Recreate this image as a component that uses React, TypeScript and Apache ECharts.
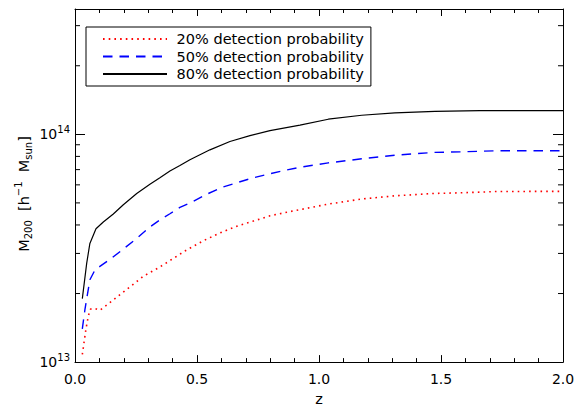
import React, { useEffect, useRef } from "react";
import * as echarts from "echarts";

const FONT = "DejaVu Sans";
const MASS_UNIT = 1e13; // masses below are listed in units of 1e13 h^-1 Msun

const seriesNames = [
  "20% detection probability",
  "50% detection probability",
  "80% detection probability",
];

// 20% detection probability
const z20 = [0.030, 0.037, 0.045, 0.055, 0.064, 0.082, 0.102, 0.136, 0.177, 0.225, 0.280, 0.341, 0.389, 0.458,
  0.526, 0.594, 0.663, 0.731, 0.799, 0.868, 0.922, 1.038, 1.175, 1.311, 1.468, 1.591, 1.728, 2.0];
const m20 = [1.08, 1.22, 1.40, 1.60, 1.71, 1.72, 1.69, 1.80, 1.95, 2.14, 2.38, 2.59, 2.79, 3.11,
  3.41, 3.69, 3.95, 4.16, 4.39, 4.55, 4.67, 4.94, 5.20, 5.37, 5.50, 5.54, 5.61, 5.62];

// 50% detection probability
const z50 = [0.030, 0.041, 0.061, 0.082, 0.102, 0.150, 0.205, 0.253, 0.307, 0.348, 0.389, 0.430, 0.485, 0.540,
  0.608, 0.663, 0.731, 0.799, 0.868, 0.922, 1.038, 1.175, 1.311, 1.468, 1.591, 1.728, 2.0];
const m50 = [1.40, 1.71, 2.30, 2.54, 2.63, 2.86, 3.18, 3.49, 3.92, 4.21, 4.48, 4.78, 5.08, 5.46,
  5.88, 6.13, 6.45, 6.71, 6.98, 7.17, 7.49, 7.81, 8.09, 8.33, 8.38, 8.47, 8.47];

// 80% detection probability
const z80 = [0.030, 0.048, 0.061, 0.086, 0.116, 0.157, 0.198, 0.253, 0.307, 0.348, 0.389, 0.430, 0.471, 0.553,
  0.635, 0.717, 0.799, 0.922, 1.038, 1.175, 1.311, 1.475, 1.660, 2.0];
const m80 = [1.90, 2.72, 3.32, 3.85, 4.12, 4.47, 4.91, 5.50, 6.04, 6.45, 6.90, 7.29, 7.74, 8.55,
  9.30, 9.87, 10.38, 10.97, 11.65, 12.13, 12.42, 12.62, 12.70, 12.70];

const X_MIN = 0;
const X_MAX = 2.0;
const X_INTERVAL = 0.5;
const Y_MIN = 1e13;
const Y_MAX = 3.55e14;
const yMinorTicks = [2e13, 3e13, 4e13, 5e13, 6e13, 7e13, 8e13, 9e13, 2e14, 3e14];

function toPairs(z: number[], m: number[]) {
  return z.map((v, i) => [v, m[i] * MASS_UNIT]);
}

export default function App() {
  const ref = useRef<HTMLDivElement>(null);

  useEffect(() => {
    if (!ref.current) return;
    const chart = echarts.init(ref.current, undefined, { renderer: "svg" });

    const xAxisBase = {
      type: "value",
      min: X_MIN,
      max: X_MAX,
      interval: X_INTERVAL,
      axisLine: { show: true, onZero: false, lineStyle: { color: "#000", width: 1 } },
      axisTick: { show: true, inside: true, length: 7, lineStyle: { color: "#000", width: 1 } },
      minorTick: { show: true, splitNumber: 5, length: 4, lineStyle: { color: "#000", width: 1 } },
      splitLine: { show: false },
      minorSplitLine: { show: false },
    };

    const yAxisBase = {
      type: "log",
      logBase: 10,
      min: Y_MIN,
      max: Y_MAX,
      axisLine: { show: true, onZero: false, lineStyle: { color: "#000", width: 1 } },
      axisTick: { show: true, inside: true, length: 10, lineStyle: { color: "#000", width: 1 } },
      splitLine: { show: false },
    };

    const powerLabel = (v: number) => {
      const lg = Math.log10(v);
      const e = Math.round(lg);
      if (Math.abs(lg - e) > 1e-6) return "";
      return `{b|10}{s|${e}}`;
    };

    const option: any = {
      animation: false,
      backgroundColor: "#fff",
      textStyle: { fontFamily: FONT, color: "#000" },
      grid: { left: 75, right: 15, top: 9, bottom: 44, containLabel: false },
      legend: {
        data: seriesNames,
        orient: "vertical",
        left: 86,
        top: 27,
        padding: [4, 7, 4, 16],
        itemWidth: 64,
        itemHeight: 12,
        itemGap: 1.5,
        borderColor: "#000",
        borderWidth: 1,
        borderRadius: 0,
        selectedMode: false,
        // line samples only, no marker on them
        itemStyle: { opacity: 0 },
        formatter: (n: string) => " " + n,
        textStyle: { fontFamily: FONT, fontSize: 14.5, color: "#000", lineHeight: 16 },
      },
      xAxis: [
        {
          ...xAxisBase,
          position: "bottom",
          name: "z",
          nameLocation: "middle",
          nameGap: 27,
          nameTextStyle: { fontFamily: FONT, fontSize: 14.5, color: "#000" },
          axisLabel: {
            show: true,
            margin: 10,
            fontFamily: FONT,
            fontSize: 14,
            color: "#000",
            formatter: (v: number) => v.toFixed(1),
          },
        },
        { ...xAxisBase, position: "top", axisLabel: { show: false } },
      ],
      yAxis: [
        {
          ...yAxisBase,
          position: "left",
          axisLabel: {
            show: true,
            margin: 5,
            formatter: powerLabel,
            rich: {
              b: { fontFamily: FONT, fontSize: 14, lineHeight: 20, color: "#000" },
              s: { fontFamily: FONT, fontSize: 10, lineHeight: 10, verticalAlign: "top", color: "#000" },
            },
          },
        },
        { ...yAxisBase, position: "right", axisLabel: { show: false } },
      ],
      graphic: [
        {
          type: "text",
          x: 23.5,
          y: 194,
          rotation: Math.PI / 2,
          style: {
            text: "{m|M}{sub|200}  {m|[h}{sup|\u22121}  {m|M}{sub|sun}{m|]}",
            fontFamily: FONT,
            fontSize: 14.5,
            lineHeight: 20,
            fill: "#000",
            align: "center",
            verticalAlign: "middle",
            textAlign: "center",
            textVerticalAlign: "middle",
            rich: {
              m: { fontFamily: FONT, fontSize: 14.5, lineHeight: 20, fill: "#000" },
              sub: { fontFamily: FONT, fontSize: 10, lineHeight: 10, verticalAlign: "bottom", fill: "#000" },
              sup: { fontFamily: FONT, fontSize: 10, lineHeight: 10, verticalAlign: "top", fill: "#000" },
            },
          },
        },
      ],
      series: [
        {
          name: seriesNames[0],
          type: "line",
          data: toPairs(z20, m20),
          showSymbol: false,
          symbol: "none",
          smooth: false,
          lineStyle: { color: "#ff0000", width: 1.6, type: [1.6, 4.1], cap: "butt" },
          itemStyle: { color: "#ff0000" },
          z: 3,
        },
        {
          name: seriesNames[1],
          type: "line",
          data: toPairs(z50, m50),
          showSymbol: false,
          symbol: "none",
          smooth: false,
          lineStyle: { color: "#0000ff", width: 1.4, type: [9.5, 7] },
          itemStyle: { color: "#0000ff" },
          z: 3,
        },
        {
          name: seriesNames[2],
          type: "line",
          data: toPairs(z80, m80),
          showSymbol: false,
          symbol: "none",
          smooth: false,
          lineStyle: { color: "#000000", width: 1.2, type: "solid" },
          itemStyle: { color: "#000000" },
          z: 3,
        },
        {
          // minor log ticks on the left and right frame edges
          type: "custom",
          silent: true,
          clip: false,
          data: yMinorTicks.map((v) => [X_MIN, v]),
          renderItem: (_params: any, api: any) => {
            const v = api.value(1);
            const l = api.coord([X_MIN, v]);
            const r = api.coord([X_MAX, v]);
            const st = { stroke: "#000", lineWidth: 1 };
            return {
              type: "group",
              children: [
                { type: "line", shape: { x1: l[0], y1: l[1], x2: l[0] + 5, y2: l[1] }, style: st },
                { type: "line", shape: { x1: r[0] - 5, y1: r[1], x2: r[0], y2: r[1] }, style: st },
              ],
            };
          },
          z: 2,
        },
      ],
    };

    chart.setOption(option);
    return () => chart.dispose();
  }, []);

  return (
    <div
      ref={ref}
      style={{ position: "fixed", left: 0, top: 0, width: 578, height: 411, background: "#fff" }}
    />
  );
}
